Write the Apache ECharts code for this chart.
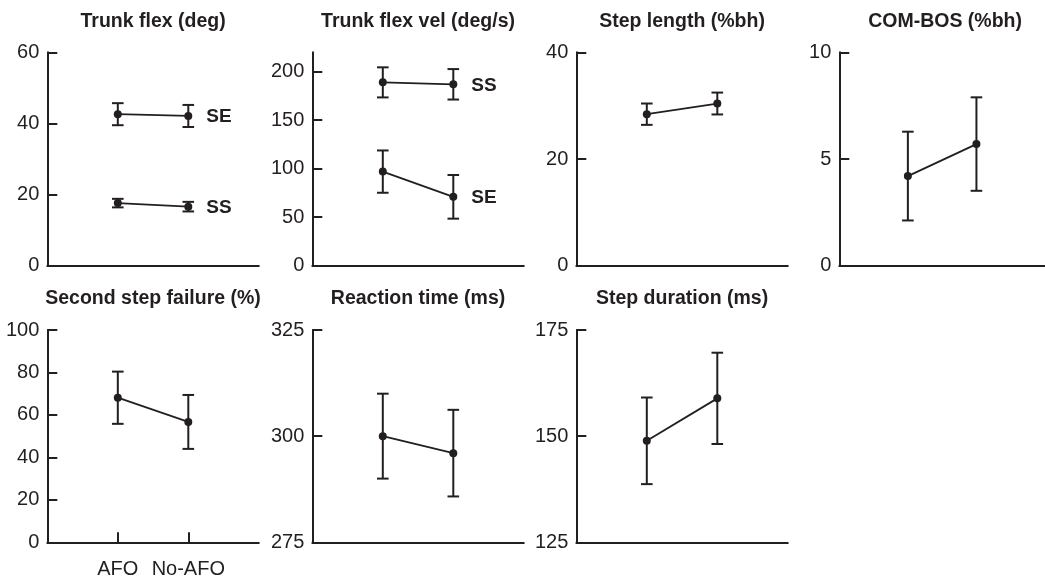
<!DOCTYPE html>
<html>
<head>
<meta charset="utf-8">
<script src="https://cdn.jsdelivr.net/npm/echarts@6/dist/echarts.min.js"></script>
<style>
html,body{margin:0;padding:0;background:#fff;}
#chart{width:1045px;height:582px;}
</style>
</head>
<body>
<div id="chart"></div>
<script>
// ---- data ----
const conditions = ['AFO', 'No-AFO'];

const panelTitles = ['Trunk flex (deg)', 'Trunk flex vel (deg/s)', 'Step length (%bh)', 'COM-BOS (%bh)',
                     'Second step failure (%)', 'Reaction time (ms)', 'Step duration (ms)'];

const trunkFlexSE = [42.6, 42.1];
const trunkFlexSEErr = [3.1, 3.1];
const trunkFlexSS = [17.6, 16.6];
const trunkFlexSSErr = [1.2, 1.35];

const trunkVelSS = [189, 187];
const trunkVelSSErr = [15.5, 15.7];
const trunkVelSE = [97, 71];
const trunkVelSEErr = [21.8, 22.5];

const stepLength = [28.4, 30.4];
const stepLengthErr = [2.0, 2.05];

const comBos = [4.2, 5.7];
const comBosErr = [2.08, 2.19];

const secondStepFailure = [68.1, 56.7];
const secondStepFailureErr = [12.3, 12.7];

const reactionTime = [300.0, 296.0];
const reactionTimeErr = [10.0, 10.2];

const stepDuration = [148.9, 158.9];
const stepDurationErr = [10.2, 10.75];

const yTicks = [
  [0, 20, 40, 60],
  [0, 50, 100, 150, 200],
  [0, 20, 40],
  [0, 5, 10],
  [0, 20, 40, 60, 80, 100],
  [275, 300, 325],
  [125, 150, 175]
];
const yMax = [60, 220, 40, 10, 100, 325, 175];

// series per panel: [values, errors, label]
const panelSeries = [
  [[trunkFlexSE, trunkFlexSEErr, 'SE'], [trunkFlexSS, trunkFlexSSErr, 'SS']],
  [[trunkVelSS, trunkVelSSErr, 'SS'], [trunkVelSE, trunkVelSEErr, 'SE']],
  [[stepLength, stepLengthErr, '']],
  [[comBos, comBosErr, '']],
  [[secondStepFailure, secondStepFailureErr, '']],
  [[reactionTime, reactionTimeErr, '']],
  [[stepDuration, stepDurationErr, '']]
];

// ---- layout ----
const INK = '#231f20';
const FONT = "'Liberation Sans', Arial, sans-serif";
const colLeft = [47.3, 312.3, 576.3, 839.3];
const gridW = 211.5;
const rowTop = [52.3, 330];
const rowH = [213.4, 212.3];
const titleY = [21.5, 298.5];

const grids = [], xAxes = [], yAxes = [], titles = [], series = [];

panelTitles.forEach((t, p) => {
  const row = p < 4 ? 0 : 1;
  const col = p < 4 ? p : p - 4;
  const left = colLeft[col], top = rowTop[row], h = rowH[row];
  grids.push({left: left, top: top, width: gridW, height: h, containLabel: false});
  titles.push({
    text: t, left: left + gridW / 2, top: titleY[row], padding: 0,
    textAlign: 'center', textVerticalAlign: 'middle',
    textStyle: {fontFamily: FONT, fontSize: 19.5, fontWeight: 'bold', color: INK}
  });
  const isLabelled = (p === 4);
  const xVals = conditions.map((c, i) => i + 1);
  xAxes.push({
    gridIndex: p, type: 'value', min: 0, max: conditions.length + 1,
    splitLine: {show: false},
    axisLine: {show: true, onZero: false, lineStyle: {color: INK, width: 2}},
    axisTick: {show: isLabelled, inside: true, length: 10, customValues: xVals, lineStyle: {color: INK, width: 2}},
    axisLabel: {show: isLabelled, customValues: xVals, margin: 17,
      formatter: v => conditions[Math.round(v) - 1] || '',
      fontFamily: FONT, fontSize: 20, color: INK}
  });
  yAxes.push({
    gridIndex: p, type: 'value', min: yTicks[p][0], max: yMax[p],
    splitLine: {show: false},
    axisLine: {show: true, lineStyle: {color: INK, width: 2}},
    axisTick: {show: true, inside: true, length: 10, customValues: yTicks[p], lineStyle: {color: INK, width: 2}},
    axisLabel: {show: true, customValues: yTicks[p], margin: 8,
      fontFamily: FONT, fontSize: 20, color: INK}
  });

  panelSeries[p].forEach(([vals, errs, lab]) => {
    series.push({
      type: 'custom', xAxisIndex: p, yAxisIndex: p, silent: true,
      data: vals.map((v, i) => [i + 1, v - errs[i], v + errs[i]]),
      renderItem: (params, api) => {
        const x = api.value(0);
        const hi = api.coord([x, api.value(2)]);
        const lo = api.coord([x, api.value(1)]);
        const hw = 5.8;
        const st = {stroke: INK, lineWidth: 2};
        return {type: 'group', children: [
          {type: 'line', shape: {x1: hi[0], y1: hi[1], x2: lo[0], y2: lo[1]}, style: st},
          {type: 'line', shape: {x1: hi[0] - hw, y1: hi[1], x2: hi[0] + hw, y2: hi[1]}, style: st},
          {type: 'line', shape: {x1: lo[0] - hw, y1: lo[1], x2: lo[0] + hw, y2: lo[1]}, style: st}
        ]};
      },
      z: 2
    });
    series.push({
      type: 'line', xAxisIndex: p, yAxisIndex: p, name: lab,
      symbol: 'circle', symbolSize: 8,
      itemStyle: {color: INK},
      lineStyle: {color: INK, width: 1.8},
      data: vals.map((v, i) => ({
        value: [i + 1, v],
        label: {show: lab !== '' && i === vals.length - 1, formatter: lab, position: 'right', distance: 14,
                offset: [0, 1], fontFamily: FONT, fontSize: 19, fontWeight: 'bold', color: INK}
      })),
      z: 3
    });
  });
});

const chart = echarts.init(document.getElementById('chart'), null, {renderer: 'canvas'});
chart.setOption({
  animation: false,
  backgroundColor: '#fff',
  title: titles,
  grid: grids,
  xAxis: xAxes,
  yAxis: yAxes,
  series: series
});
</script>
</body>
</html>
